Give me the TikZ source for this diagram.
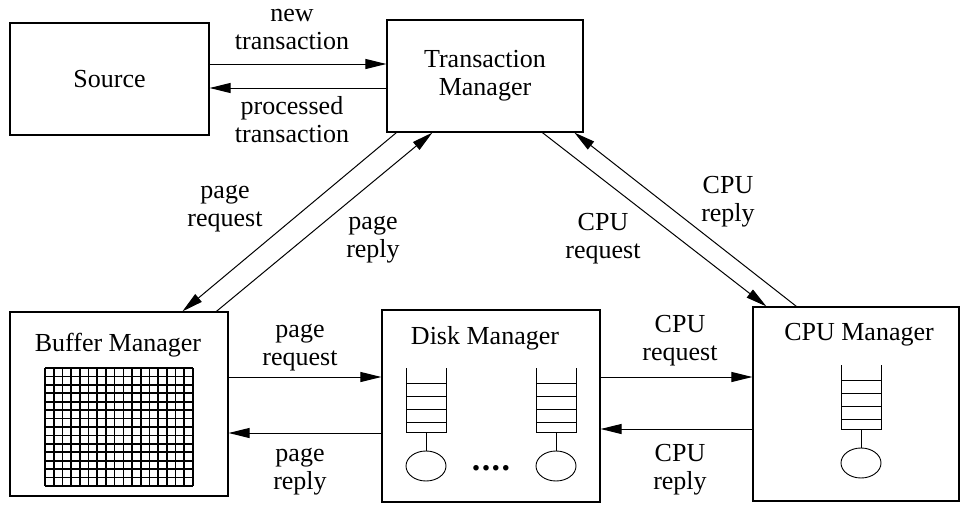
\documentclass[tikz,border=0pt]{standalone}
\usepackage{fontspec}
\setmainfont{Liberation Serif}
\usepackage{tikz}
\usetikzlibrary{arrows.meta,shapes.geometric}
\tikzstyle{Module}=[rectangle, draw=black, line width=1.2pt, inner sep=0pt, align=center]
\tikzstyle{Flow}=[-{Triangle[length=21pt,width=10pt]}, line width=1pt]
\tikzstyle{Label}=[align=center, inner sep=0pt]
\tikzstyle{Server}=[ellipse, draw=black, line width=0.9pt, minimum width=40pt, minimum height=30pt, inner sep=0pt]
% queue with its server below: #1 name of server, #2 centre x, #3 top y
\newcommand{\slotqueue}[3]{
    \draw[line width=0.9pt] (#2-20,#3) -- (#2-20,#3+64) -- (#2+20,#3+64) -- (#2+20,#3);
    \foreach \k in {15,28,41,54} \draw[line width=0.9pt] (#2-20,#3+\k) -- (#2+20,#3+\k);
    \node[Server] (#1) at (#2,#3+98) {};
    \draw[line width=0.9pt] (#2,#3+64) -- (#1.north);
}

\begin{document}
\begin{tikzpicture}[x=1pt, y=-1pt, font=\fontsize{26}{28}\selectfont]
    \useasboundingbox (0,0) rectangle (961,506);

    \path
    (109.5,79) node[Module, minimum width=199pt, minimum height=112pt] (source) {Source}
    (485,76) node[Module, minimum width=196pt, minimum height=112pt] (tm) {Transaction\\Manager}
    (119,404) node[Module, minimum width=218pt, minimum height=184pt] (bm) {}
    (491,406) node[Module, minimum width=218pt, minimum height=192pt] (dm) {}
    (856,404) node[Module, minimum width=206pt, minimum height=194pt] (cpu) {};

    \path
    (118,345) node (bmtitle) {Buffer Manager}
    (485,338) node (dmtitle) {Disk Manager}
    (859,335) node (cputitle) {CPU Manager};

    % buffer pool
    \foreach \i in {0,...,17} \draw[line width=1.7pt] (45+\i*8.706,368) -- (45+\i*8.706,486);
    \foreach \j in {0,...,14} \draw[line width=1.7pt] (45,368+\j*8.43) -- (193,368+\j*8.43);

    % disk and cpu queues
    \slotqueue{disk1}{426}{368}
    \slotqueue{disk2}{556}{368}
    \slotqueue{cpu1}{861}{365}
    \node[anchor=base] (dots) at (491,470) {\fontsize{34}{34}\selectfont\textbf{.\hspace{1.5pt}.\hspace{1.5pt}.\hspace{1.5pt}.}};

    % source <-> transaction manager
    \draw[Flow] ([yshift=15pt]source.east) -- ([yshift=15pt]source.east -| tm.west);
    \draw[Flow] ([yshift=-9pt]source.east -| tm.west) -- ([yshift=-9pt]source.east);
    \path
    (292,30) node[Label] (newtx) {new\\transaction}
    (292,120) node[Label] (donetx) {processed\\transaction};

    % transaction manager <-> buffer / cpu managers
    \draw[Flow] ([xshift=10pt]tm.south west) -- ([xshift=173pt]bm.north west);
    \draw[Flow] ([xshift=207pt]bm.north west) -- ([xshift=46pt]tm.south west);
    \draw[Flow] ([xshift=156pt]tm.south west) -- ([xshift=14pt]cpu.north west);
    \draw[Flow] ([xshift=44pt]cpu.north west) -- ([xshift=188pt]tm.south west);
    \path
    (225,209) node[Label] (pgreqtm) {page\\request}
    (373,240) node[Label] (pgreptm) {page\\reply}
    (603,239) node[Label] (cpureqtm) {CPU\\request}
    (728,202) node[Label] (cpureptm) {CPU\\reply};

    % buffer <-> disk <-> cpu
    \draw[Flow] ([yshift=27pt]bm.east) -- ([yshift=27pt]bm.east -| dm.west);
    \draw[Flow] ([yshift=-29pt]bm.east -| dm.west) -- ([yshift=-29pt]bm.east);
    \draw[Flow] ([yshift=29pt]dm.east) -- ([yshift=29pt]dm.east -| cpu.west);
    \draw[Flow] ([yshift=-23pt]dm.east -| cpu.west) -- ([yshift=-23pt]dm.east);
    \path
    (300,348) node[Label] (pgreq) {page\\request}
    (300,472) node[Label] (pgrep) {page\\reply}
    (680,341) node[Label] (cpureq) {CPU\\request}
    (680,470) node[Label] (cpurep) {CPU\\reply};
\end{tikzpicture}
\end{document}
